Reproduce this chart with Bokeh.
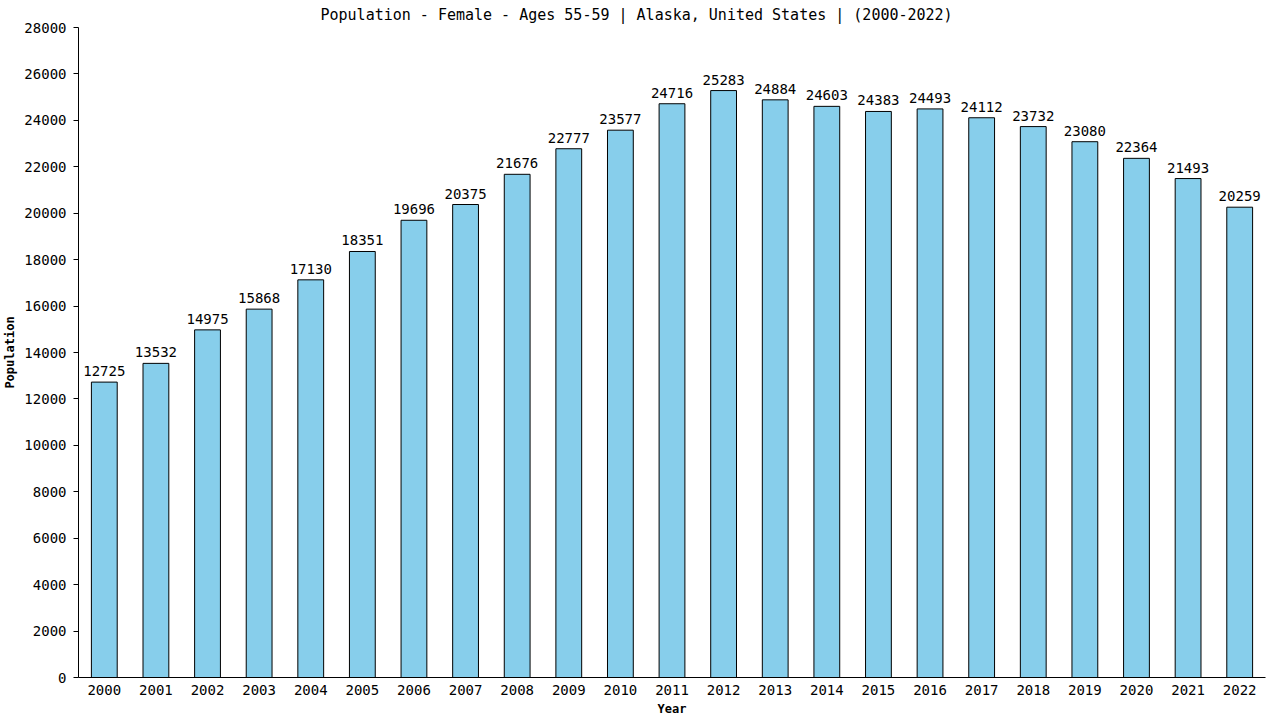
from bokeh.plotting import figure
from bokeh.models import ColumnDataSource, FixedTicker, Range1d
from bokeh.core.properties import value
from bokeh.embed import file_html
from bokeh.resources import INLINE

years = [str(y) for y in range(2000, 2023)]
population = [12725, 13532, 14975, 15868, 17130, 18351, 19696, 20375, 21676, 22777,
              23577, 24716, 25283, 24884, 24603, 24383, 24493, 24112, 23732, 23080,
              22364, 21493, 20259]
y_ticks = list(range(0, 28001, 2000))
title_text = "Population - Female - Ages 55-59 | Alaska, United States |  (2000-2022)"

FONT = "DejaVu Sans Mono"

src = ColumnDataSource(dict(year=years, pop=population, lab=[str(v) for v in population]))

p = figure(x_range=years, y_range=Range1d(0, 28000), width=1272, height=718,
           output_backend="svg", toolbar_location=None, title=title_text,
           min_border_left=78, min_border_right=7, min_border_top=27, min_border_bottom=41)

p.title.text_font = FONT
p.title.text_font_size = "15px"
p.title.text_font_style = "normal"
p.title.text_color = "black"
p.title.align = "left"
p.title.offset = 242
p.title.standoff = 7

p.vbar(x="year", top="pop", width=0.5, source=src, fill_color="#87CEEB",
       line_color="black", line_width=1)
p.text(x="year", y="pop", text="lab", source=src, text_align="center",
       text_baseline="bottom", y_offset=-6, text_font=value(FONT),
       text_font_size="14px", text_color="black")

p.xgrid.visible = False
p.ygrid.visible = False
p.outline_line_color = None
p.x_range.range_padding = 0

p.yaxis.ticker = FixedTicker(ticks=y_ticks)
p.yaxis.minor_tick_line_color = None
p.yaxis.major_tick_out = 5
p.yaxis.major_tick_in = 0
p.yaxis.major_label_standoff = 7
p.yaxis.axis_label = "Population"
p.yaxis.axis_label_standoff = 4

p.xaxis.major_tick_out = 0
p.xaxis.major_tick_in = 0
p.xaxis.major_label_standoff = 7
p.xaxis.axis_label = "Year"
p.xaxis.axis_label_standoff = 4

for ax in (p.xaxis, p.yaxis):
    ax.axis_line_color = "black"
    ax.major_tick_line_color = "black"
    ax.major_label_text_font = FONT
    ax.major_label_text_font_size = "14px"
    ax.major_label_text_color = "black"
    ax.axis_label_text_font = FONT
    ax.axis_label_text_font_size = "12px"
    ax.axis_label_text_font_style = "bold"
    ax.axis_label_text_color = "black"

open("out.html", "w").write(file_html(p, INLINE))
